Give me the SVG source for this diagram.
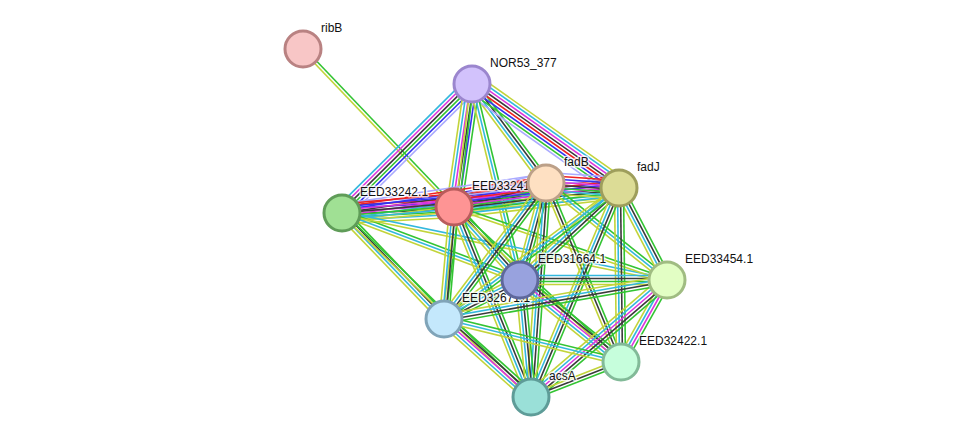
<svg xmlns="http://www.w3.org/2000/svg" width="975" height="443" viewBox="0 0 975 443">
<style>
#edges line{stroke-width:1.6;fill:none}
.nb{stroke:#33c433}.fu{stroke:#ee2222}.co{stroke:#3333f0}.ex{stroke:#3a3a3a}.exp{stroke:#dd33dd}.db{stroke:#33b8dd}.tm{stroke:#c2d43a}.ho{stroke:#aaaaff}
.node circle{stroke-width:3}
.node text{font-family:"Liberation Sans",Arial,sans-serif;font-size:12px;fill:#111;stroke:#fff;stroke-width:3;stroke-opacity:0.75;paint-order:stroke;stroke-linejoin:round}
</style>
<rect width="975" height="443" fill="#fff"/>
<g id="edges">
<g transform="translate(303,49) rotate(46.30)"><line x2="218.6" y1="-1.5" y2="-1.5" class="nb"/><line x2="218.6" y1="1.5" y2="1.5" class="tm"/></g>
<g transform="translate(472,84) rotate(135.22)"><line x2="183.1" y1="-7.5" y2="-7.5" class="ho"/><line x2="183.1" y1="-4.5" y2="-4.5" class="co"/><line x2="183.1" y1="-1.5" y2="-1.5" class="nb"/><line x2="183.1" y1="1.5" y2="1.5" class="ex"/><line x2="183.1" y1="4.5" y2="4.5" class="exp"/><line x2="183.1" y1="7.5" y2="7.5" class="db"/></g>
<g transform="translate(472,84) rotate(98.33)"><line x2="124.3" y1="-7.5" y2="-7.5" class="nb"/><line x2="124.3" y1="-4.5" y2="-4.5" class="co"/><line x2="124.3" y1="-1.5" y2="-1.5" class="ex"/><line x2="124.3" y1="1.5" y2="1.5" class="exp"/><line x2="124.3" y1="4.5" y2="4.5" class="db"/><line x2="124.3" y1="7.5" y2="7.5" class="tm"/></g>
<g transform="translate(472,84) rotate(53.22)"><line x2="123.6" y1="-4.5" y2="-4.5" class="nb"/><line x2="123.6" y1="-1.5" y2="-1.5" class="ex"/><line x2="123.6" y1="1.5" y2="1.5" class="db"/><line x2="123.6" y1="4.5" y2="4.5" class="tm"/></g>
<g transform="translate(472,84) rotate(35.28)"><line x2="180.1" y1="-10.5" y2="-10.5" class="tm"/><line x2="180.1" y1="-7.5" y2="-7.5" class="db"/><line x2="180.1" y1="-4.5" y2="-4.5" class="exp"/><line x2="180.1" y1="-1.5" y2="-1.5" class="ex"/><line x2="180.1" y1="1.5" y2="1.5" class="fu"/><line x2="180.1" y1="4.5" y2="4.5" class="co"/><line x2="180.1" y1="7.5" y2="7.5" class="nb"/><line x2="180.1" y1="10.5" y2="10.5" class="ho"/></g>
<g transform="translate(472,84) rotate(76.24)"><line x2="201.8" y1="-3" y2="-3" class="nb"/><line x2="201.8" class="db"/><line x2="201.8" y1="3" y2="3" class="tm"/></g>
<g transform="translate(472,84) rotate(96.79)"><line x2="236.7" y1="-1.5" y2="-1.5" class="nb"/><line x2="236.7" y1="1.5" y2="1.5" class="tm"/></g>
<g transform="translate(342,213) rotate(-3.07)"><line x2="112.2" y1="-10.5" y2="-10.5" class="ho"/><line x2="112.2" y1="-7.5" y2="-7.5" class="fu"/><line x2="112.2" y1="-4.5" y2="-4.5" class="co"/><line x2="112.2" y1="-1.5" y2="-1.5" class="exp"/><line x2="112.2" y1="1.5" y2="1.5" class="ex"/><line x2="112.2" y1="4.5" y2="4.5" class="nb"/><line x2="112.2" y1="7.5" y2="7.5" class="db"/><line x2="112.2" y1="10.5" y2="10.5" class="tm"/></g>
<g transform="translate(342,213) rotate(-8.37)"><line x2="206.2" y1="-9" y2="-9" class="ho"/><line x2="206.2" y1="-6" y2="-6" class="fu"/><line x2="206.2" y1="-3" y2="-3" class="co"/><line x2="206.2" class="ex"/><line x2="206.2" y1="3" y2="3" class="exp"/><line x2="206.2" y1="6" y2="6" class="db"/><line x2="206.2" y1="9" y2="9" class="tm"/></g>
<g transform="translate(342,213) rotate(-5.16)"><line x2="278.1" y1="-9" y2="-9" class="fu"/><line x2="278.1" y1="-6" y2="-6" class="co"/><line x2="278.1" y1="-3" y2="-3" class="exp"/><line x2="278.1" class="ex"/><line x2="278.1" y1="3" y2="3" class="nb"/><line x2="278.1" y1="6" y2="6" class="db"/><line x2="278.1" y1="9" y2="9" class="tm"/></g>
<g transform="translate(342,213) rotate(46.10)"><line x2="147.1" y1="-4.5" y2="-4.5" class="nb"/><line x2="147.1" y1="-1.5" y2="-1.5" class="ex"/><line x2="147.1" y1="1.5" y2="1.5" class="db"/><line x2="147.1" y1="4.5" y2="4.5" class="tm"/></g>
<g transform="translate(342,213) rotate(20.63)"><line x2="190.2" y1="-3" y2="-3" class="nb"/><line x2="190.2" class="db"/><line x2="190.2" y1="3" y2="3" class="tm"/></g>
<g transform="translate(342,213) rotate(11.65)"><line x2="331.8" y1="-1.5" y2="-1.5" class="db"/><line x2="331.8" y1="1.5" y2="1.5" class="tm"/></g>
<g transform="translate(342,213) rotate(44.23)"><line x2="263.8" y1="-1.5" y2="-1.5" class="nb"/><line x2="263.8" y1="1.5" y2="1.5" class="tm"/></g>
<g transform="translate(454,207) rotate(-14.62)"><line x2="95.1" y1="-10.5" y2="-10.5" class="ho"/><line x2="95.1" y1="-7.5" y2="-7.5" class="fu"/><line x2="95.1" y1="-4.5" y2="-4.5" class="co"/><line x2="95.1" y1="-1.5" y2="-1.5" class="exp"/><line x2="95.1" y1="1.5" y2="1.5" class="ex"/><line x2="95.1" y1="4.5" y2="4.5" class="nb"/><line x2="95.1" y1="7.5" y2="7.5" class="db"/><line x2="95.1" y1="10.5" y2="10.5" class="tm"/></g>
<g transform="translate(454,207) rotate(-6.57)"><line x2="166.1" y1="-10.5" y2="-10.5" class="ho"/><line x2="166.1" y1="-7.5" y2="-7.5" class="fu"/><line x2="166.1" y1="-4.5" y2="-4.5" class="co"/><line x2="166.1" y1="-1.5" y2="-1.5" class="exp"/><line x2="166.1" y1="1.5" y2="1.5" class="ex"/><line x2="166.1" y1="4.5" y2="4.5" class="nb"/><line x2="166.1" y1="7.5" y2="7.5" class="db"/><line x2="166.1" y1="10.5" y2="10.5" class="tm"/></g>
<g transform="translate(454,207) rotate(47.88)"><line x2="98.4" y1="-4.5" y2="-4.5" class="nb"/><line x2="98.4" y1="-1.5" y2="-1.5" class="ex"/><line x2="98.4" y1="1.5" y2="1.5" class="db"/><line x2="98.4" y1="4.5" y2="4.5" class="tm"/></g>
<g transform="translate(454,207) rotate(95.10)"><line x2="112.5" y1="-4.5" y2="-4.5" class="nb"/><line x2="112.5" y1="-1.5" y2="-1.5" class="ex"/><line x2="112.5" y1="1.5" y2="1.5" class="db"/><line x2="112.5" y1="4.5" y2="4.5" class="tm"/></g>
<g transform="translate(454,207) rotate(67.94)"><line x2="205" y1="-4.5" y2="-4.5" class="nb"/><line x2="205" y1="-1.5" y2="-1.5" class="ex"/><line x2="205" y1="1.5" y2="1.5" class="db"/><line x2="205" y1="4.5" y2="4.5" class="tm"/></g>
<g transform="translate(454,207) rotate(42.87)"><line x2="227.9" y1="-1.5" y2="-1.5" class="nb"/><line x2="227.9" y1="1.5" y2="1.5" class="tm"/></g>
<g transform="translate(454,207) rotate(18.92)"><line x2="225.2" y1="-1.5" y2="-1.5" class="nb"/><line x2="225.2" y1="1.5" y2="1.5" class="tm"/></g>
<g transform="translate(546,183) rotate(3.92)"><line x2="73.2" y1="-10.5" y2="-10.5" class="ho"/><line x2="73.2" y1="-7.5" y2="-7.5" class="fu"/><line x2="73.2" y1="-4.5" y2="-4.5" class="co"/><line x2="73.2" y1="-1.5" y2="-1.5" class="exp"/><line x2="73.2" y1="1.5" y2="1.5" class="ex"/><line x2="73.2" y1="4.5" y2="4.5" class="nb"/><line x2="73.2" y1="7.5" y2="7.5" class="db"/><line x2="73.2" y1="10.5" y2="10.5" class="tm"/></g>
<g transform="translate(546,183) rotate(105.0)"><line x2="100.4" y1="-4.5" y2="-4.5" class="nb"/><line x2="100.4" y1="-1.5" y2="-1.5" class="ex"/><line x2="100.4" y1="1.5" y2="1.5" class="db"/><line x2="100.4" y1="4.5" y2="4.5" class="tm"/></g>
<g transform="translate(546,183) rotate(126.87)"><line x2="170" y1="-4.5" y2="-4.5" class="nb"/><line x2="170" y1="-1.5" y2="-1.5" class="ex"/><line x2="170" y1="1.5" y2="1.5" class="db"/><line x2="170" y1="4.5" y2="4.5" class="tm"/></g>
<g transform="translate(546,183) rotate(94.01)"><line x2="214.5" y1="-4.5" y2="-4.5" class="nb"/><line x2="214.5" y1="-1.5" y2="-1.5" class="ex"/><line x2="214.5" y1="1.5" y2="1.5" class="db"/><line x2="214.5" y1="4.5" y2="4.5" class="tm"/></g>
<g transform="translate(546,183) rotate(67.27)"><line x2="194.1" y1="-3" y2="-3" class="nb"/><line x2="194.1" class="ex"/><line x2="194.1" y1="3" y2="3" class="tm"/></g>
<g transform="translate(546,183) rotate(38.72)"><line x2="155.1" y1="-3" y2="-3" class="nb"/><line x2="155.1" class="db"/><line x2="155.1" y1="3" y2="3" class="tm"/></g>
<g transform="translate(619,188) rotate(137.09)"><line x2="135.2" y1="-4.5" y2="-4.5" class="nb"/><line x2="135.2" y1="-1.5" y2="-1.5" class="ex"/><line x2="135.2" y1="1.5" y2="1.5" class="db"/><line x2="135.2" y1="4.5" y2="4.5" class="tm"/></g>
<g transform="translate(619,188) rotate(62.45)"><line x2="103.8" y1="-4.5" y2="-4.5" class="nb"/><line x2="103.8" y1="-1.5" y2="-1.5" class="ex"/><line x2="103.8" y1="1.5" y2="1.5" class="db"/><line x2="103.8" y1="4.5" y2="4.5" class="tm"/></g>
<g transform="translate(619,188) rotate(89.34)"><line x2="174" y1="-4.5" y2="-4.5" class="nb"/><line x2="174" y1="-1.5" y2="-1.5" class="ex"/><line x2="174" y1="1.5" y2="1.5" class="db"/><line x2="174" y1="4.5" y2="4.5" class="tm"/></g>
<g transform="translate(619,188) rotate(112.83)"><line x2="226.8" y1="-4.5" y2="-4.5" class="nb"/><line x2="226.8" y1="-1.5" y2="-1.5" class="ex"/><line x2="226.8" y1="1.5" y2="1.5" class="db"/><line x2="226.8" y1="4.5" y2="4.5" class="tm"/></g>
<g transform="translate(619,188) rotate(143.18)"><line x2="218.6" y1="-3" y2="-3" class="nb"/><line x2="218.6" class="db"/><line x2="218.6" y1="3" y2="3" class="tm"/></g>
<g transform="translate(520,280)"><line x2="147" y1="-4.5" y2="-4.5" class="db"/><line x2="147" y1="-1.5" y2="-1.5" class="ex"/><line x2="147" y1="1.5" y2="1.5" class="nb"/><line x2="147" y1="4.5" y2="4.5" class="tm"/></g>
<g transform="translate(520,280) rotate(152.84)"><line x2="85.4" y1="-4.5" y2="-4.5" class="nb"/><line x2="85.4" y1="-1.5" y2="-1.5" class="ex"/><line x2="85.4" y1="1.5" y2="1.5" class="db"/><line x2="85.4" y1="4.5" y2="4.5" class="tm"/></g>
<g transform="translate(520,280) rotate(39.07)"><line x2="130.1" y1="-6" y2="-6" class="nb"/><line x2="130.1" y1="-3" y2="-3" class="ex"/><line x2="130.1" class="exp"/><line x2="130.1" y1="3" y2="3" class="db"/><line x2="130.1" y1="6" y2="6" class="tm"/></g>
<g transform="translate(520,280) rotate(84.63)"><line x2="117.5" y1="-4.5" y2="-4.5" class="nb"/><line x2="117.5" y1="-1.5" y2="-1.5" class="ex"/><line x2="117.5" y1="1.5" y2="1.5" class="db"/><line x2="117.5" y1="4.5" y2="4.5" class="tm"/></g>
<g transform="translate(667,280) rotate(119.29)"><line x2="94" y1="-4.5" y2="-4.5" class="nb"/><line x2="94" y1="-1.5" y2="-1.5" class="exp"/><line x2="94" y1="1.5" y2="1.5" class="db"/><line x2="94" y1="4.5" y2="4.5" class="tm"/></g>
<g transform="translate(667,280) rotate(139.29)"><line x2="179.4" y1="-6" y2="-6" class="nb"/><line x2="179.4" y1="-3" y2="-3" class="ex"/><line x2="179.4" class="exp"/><line x2="179.4" y1="3" y2="3" class="db"/><line x2="179.4" y1="6" y2="6" class="tm"/></g>
<g transform="translate(667,280) rotate(170.08)"><line x2="226.4" y1="-4.5" y2="-4.5" class="nb"/><line x2="226.4" y1="-1.5" y2="-1.5" class="ex"/><line x2="226.4" y1="1.5" y2="1.5" class="db"/><line x2="226.4" y1="4.5" y2="4.5" class="tm"/></g>
<g transform="translate(444,319) rotate(41.88)"><line x2="116.9" y1="-6" y2="-6" class="nb"/><line x2="116.9" y1="-3" y2="-3" class="ex"/><line x2="116.9" class="exp"/><line x2="116.9" y1="3" y2="3" class="db"/><line x2="116.9" y1="6" y2="6" class="tm"/></g>
<g transform="translate(444,319) rotate(13.65)"><line x2="182.2" y1="-3" y2="-3" class="nb"/><line x2="182.2" class="db"/><line x2="182.2" y1="3" y2="3" class="tm"/></g>
<g transform="translate(621,362) rotate(158.75)"><line x2="96.6" y1="-3" y2="-3" class="nb"/><line x2="96.6" class="ex"/><line x2="96.6" y1="3" y2="3" class="tm"/></g>
</g>
<g id="ribB" class="node"><circle cx="303" cy="49" r="18" fill="#f8c6c6" stroke="#b98282"/><text x="321" y="32">ribB</text></g>
<g id="NOR53_377" class="node"><circle cx="472" cy="84" r="18" fill="#d2c2fc" stroke="#9b86ce"/><text x="490" y="67">NOR53_377</text></g>
<g id="EED33242.1" class="node"><circle cx="342" cy="213" r="18" fill="#a0e094" stroke="#5f9c58"/><text x="360" y="196">EED33242.1</text></g>
<g id="EED33241.1" class="node"><circle cx="454" cy="207" r="18" fill="#fe9494" stroke="#b85c5c"/><text x="472" y="190">EED33241.1</text></g>
<g id="EED32671.1" class="node"><circle cx="444" cy="319" r="18" fill="#c4e8fc" stroke="#80a4b8"/><text x="462" y="302">EED32671.1</text></g>
<g id="fadB" class="node"><circle cx="546" cy="183" r="18" fill="#fee0c2" stroke="#bca088"/><text x="564" y="166">fadB</text></g>
<g id="fadJ" class="node"><circle cx="619" cy="188" r="18" fill="#dcdc96" stroke="#9e9e5c"/><text x="637" y="171">fadJ</text></g>
<g id="EED31664.1" class="node"><circle cx="520" cy="280" r="18" fill="#98a2de" stroke="#5e689c"/><text x="538" y="263">EED31664.1</text></g>
<g id="EED33454.1" class="node"><circle cx="667" cy="280" r="18" fill="#e2fec4" stroke="#a0bc82"/><text x="685" y="263">EED33454.1</text></g>
<g id="EED32422.1" class="node"><circle cx="621" cy="362" r="18" fill="#c6fedc" stroke="#82ba98"/><text x="639" y="345">EED32422.1</text></g>
<g id="acsA" class="node"><circle cx="531" cy="397" r="18" fill="#9ae0d8" stroke="#5e9c98"/><text x="549" y="380">acsA</text></g>
</svg>
